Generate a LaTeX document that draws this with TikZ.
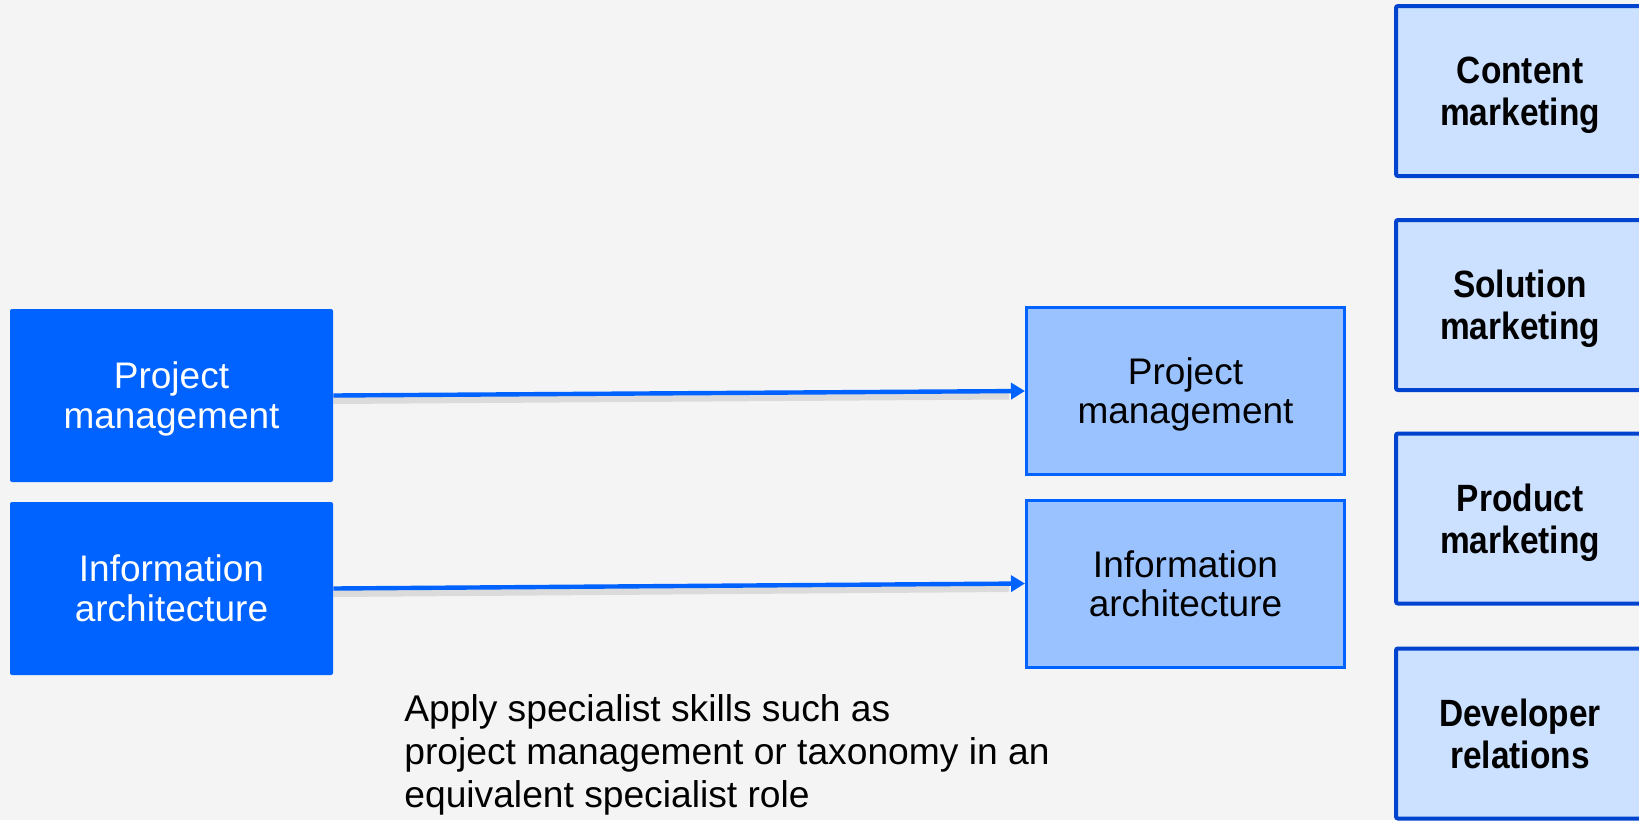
\documentclass[tikz,border=0pt]{standalone}
\usepackage{fontspec}
\setmainfont{Liberation Sans}
\newfontfamily\boldcond{Liberation Sans}[FakeStretch=0.88,UprightFont=*-Bold]
\usetikzlibrary{arrows.meta}
\definecolor{bgc}{HTML}{F4F4F4}
\definecolor{blueA}{HTML}{0062FF}
\definecolor{blueB}{HTML}{99C2FF}
\definecolor{blueC}{HTML}{CCE0FF}
\definecolor{blueD}{HTML}{0043CE}
\tikzset{
  srcbox/.style={fill=blueA, draw=none, rounded corners=1pt, inner sep=0pt,
    minimum width=161.5pt, minimum height=86.5pt, align=center, text=white,
    text depth=0pt, font={\fontsize{18.5pt}{20pt}\selectfont}},
  dstbox/.style={fill=blueB, draw=blueA, line width=1.5pt, inner sep=0pt,
    minimum width=159pt, minimum height=83.5pt, align=center, text=black,
    text depth=0pt, font={\fontsize{18.5pt}{19.5pt}\selectfont}},
  rolebox/.style={fill=blueC, draw=blueD, line width=2pt, rounded corners=1pt, inner sep=0pt,
    minimum width=124pt, minimum height=85pt, align=center, text=black,
    text depth=0pt, font={\boldcond\fontsize{19pt}{21pt}\selectfont}},
  link/.style={draw=blueA, line width=2.2pt, -{Triangle[length=7pt,width=8pt]}},
  linkshadow/.style={draw=black, opacity=0.10, line width=3.5pt}
}
\begin{document}
\begin{tikzpicture}[x=0.5pt,y=-0.5pt]
\fill[bgc] (0,0) rectangle (1639,820);
\useasboundingbox (0,0) rectangle (1639,820);
\clip (0,0) rectangle (1639,820);

\node[srcbox] (lA) at (171.5,395.5) {Project\\management};
\node[srcbox] (lB) at (171.5,588.5) {Information\\architecture};

\node[dstbox] (mA) at (1185.5,391) {Project\\management};
\node[dstbox] (mB) at (1185.5,583.5) {Information\\architecture};

\node[rolebox] (r1) at (1520,91) {Content\\marketing};
\node[rolebox] (r2) at (1520,305) {Solution\\marketing};
\node[rolebox] (r3) at (1520,518.5) {Product\\marketing};
\node[rolebox] (r4) at (1520,733.5) {Developer\\relations};

\draw[linkshadow] ([yshift=-2.5pt]lA.east) -- ([yshift=-2.5pt,xshift=-8pt]mA.west);
\draw[linkshadow] ([yshift=-2.5pt]lB.east) -- ([yshift=-2.5pt,xshift=-8pt]mB.west);
\draw[link] (lA.east) -- (mA.west);
\draw[link] (lB.east) -- (mB.west);

\node[anchor=base west, align=left, inner sep=0pt,
  font={\fontsize{18.6pt}{21.5pt}\selectfont}] (note) at (404,807)
  {Apply specialist skills such as\\project management or taxonomy in an\\equivalent specialist role};
\end{tikzpicture}
\end{document}
